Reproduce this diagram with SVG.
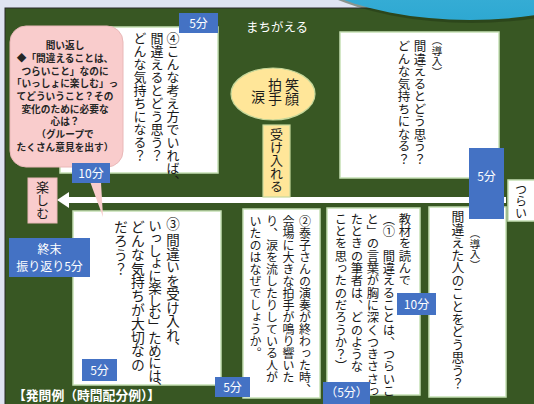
<svg xmlns="http://www.w3.org/2000/svg" width="534" height="404" viewBox="0 0 534 404">
<defs>
<linearGradient id="cy" x1="0" y1="0" x2="0" y2="1">
<stop offset="0" stop-color="#6fd0ec"/>
<stop offset="1" stop-color="#2ea8d2"/>
</linearGradient>
<style>
text{font-family:"Noto Sans CJK JP","Noto Sans",sans-serif;fill:#1a1a1a}
.v{writing-mode:vertical-rl;text-anchor:start}
.wb{fill:#ffffff;stroke:#c5e0b4;stroke-width:1.5}
.bl{fill:#4472c4}
.bt{fill:#ffffff;font-size:12px;text-anchor:middle}
.yl{fill:#ffe699;stroke:#c5d79a;stroke-width:1.2}
.pk{fill:#f9cccc;stroke:#e9b8b8;stroke-width:1}
.c{font-size:9.7px;font-weight:bold;text-anchor:middle;fill:#262626}
</style>
</defs>
<rect x="0" y="0" width="534" height="404" fill="#dfe4f2"/>
<rect x="5" y="8" width="540" height="400" fill="#385723" stroke="#2a2a2a" stroke-width="1"/>
<ellipse cx="472" cy="-77" rx="210" ry="100" fill="#1e3312" opacity="0.45"/>
<ellipse cx="470" cy="-80" rx="210" ry="100" fill="url(#cy)"/>

<g id="connectors">
<rect x="66" y="197" width="440" height="6" fill="#ffffff"/>
<polygon points="57,200 69,192 69,208" fill="#ffffff"/>
</g>

<g id="box4">
<rect class="wb" x="60" y="27" width="158" height="146"/>
<text class="v" x="173" y="32" font-size="13">④こんな考え方でいれば、</text>
<text class="v" x="157" y="32" font-size="13">間違えるとどう思う？</text>
<text class="v" x="140" y="32" font-size="13">どんな気持ちになる？</text>
</g>
<g id="time4"><rect class="bl" x="179" y="13" width="39" height="20"/><text class="bt" x="198.5" y="27.5">5分</text></g>

<g id="title"><text x="277" y="32" font-size="12.5" text-anchor="middle" style="fill:#ffffff">まちがえる</text></g>

<g id="ellipse">
<ellipse class="yl" cx="273" cy="94" rx="42" ry="26"/>
<text class="v" x="292" y="78" font-size="14">笑顔</text>
<text class="v" x="275" y="78" font-size="14">拍手</text>
<text class="v" x="258" y="90" font-size="14">涙</text>
</g>

<g id="ukeireru">
<rect class="yl" x="263" y="125" width="27" height="72"/>
<text class="v" x="276.5" y="128" font-size="13">受け入れる</text>
</g>

<g id="intro1">
<rect class="wb" x="340" y="32" width="159" height="146"/>
<text class="v" x="437" y="35" font-size="10.5">（導入）</text>
<text class="v" x="420" y="40" font-size="12.5">間違えるとどう思う？</text>
<text class="v" x="404" y="40" font-size="12.5">どんな気持ちになる？</text>
</g>

<g id="tsurai">
<rect class="wb" x="508" y="180" width="32" height="41"/>
<text class="v" x="521" y="183" font-size="12">つらい</text>
</g>

<g id="intro2">
<rect class="wb" x="429" y="207" width="77" height="190"/>
<text class="v" x="475" y="228" font-size="10.5">（導入）</text>
<text class="v" x="458" y="210" font-size="12.8">間違えた人のことをどう思う？</text>
</g>
<g id="time5top"><rect class="bl" x="469" y="148" width="35" height="71"/><text class="bt" x="486.5" y="181">5分</text></g>

<g id="box1">
<rect class="wb" x="327" y="208" width="93" height="187"/>
<text class="v" x="405" y="213" font-size="12.3">教材を読んで</text>
<text class="v" x="389" y="213" font-size="12.3">（①　間違えることは、つらいこ</text>
<text class="v" x="373" y="213" font-size="12.3">と」の言葉が胸に深くつきささっ</text>
<text class="v" x="357" y="213" font-size="12.3">たときの筆者は、どのような</text>
<text class="v" x="341" y="213" font-size="12.3">ことを思ったのだろうか？）</text>
</g>
<g id="time10b"><rect class="bl" x="397" y="293" width="39" height="22"/><text class="bt" x="416.5" y="308.5">10分</text></g>
<g id="time5p"><rect class="bl" x="323" y="382" width="47" height="22"/><text class="bt" x="346.5" y="397">（5分）</text></g>

<g id="box2">
<rect class="wb" x="243" y="209" width="77" height="189"/>
<text class="v" x="305" y="215" font-size="12">②泰子さんの演奏が終わった時、</text>
<text class="v" x="288.5" y="215" font-size="12">会場に大きな拍手が鳴り響いた</text>
<text class="v" x="272" y="215" font-size="12">り、涙を流したりしている人が</text>
<text class="v" x="255.5" y="215" font-size="12">いたのはなぜでしょうか。</text>
</g>

<g id="box3">
<rect class="wb" x="73" y="211" width="148" height="174"/>
<text class="v" x="173" y="217" font-size="13.5">③ 間違いを受け入れ、</text>
<text class="v" x="155" y="219" font-size="13.5" letter-spacing="-1">いっしょに楽しむ」ためには、</text>
<text class="v" x="138" y="220" font-size="13.8">どんな気持ちが大切なの</text>
<text class="v" x="121" y="220" font-size="13.8">だろう？</text>
</g>
<g id="time3"><rect class="bl" x="82" y="359" width="35" height="22"/><text class="bt" x="99.5" y="374.5">5分</text></g>
<g id="time2"><rect class="bl" x="215" y="377" width="35" height="20"/><text class="bt" x="232.5" y="391.5">5分</text></g>

<g id="callout">
<rect class="pk" x="10" y="26" width="113" height="141" rx="16" ry="16"/>
<polygon points="84,165 100,165 103,217" fill="#f9cccc"/>
<text class="c" x="65" y="49">問い返し</text>
<text class="c" x="65" y="62">◆「間違えることは、</text>
<text class="c" x="65" y="74.5">つらいこと」なのに</text>
<text class="c" x="65" y="87">「いっしょに楽しむ」っ</text>
<text class="c" x="65" y="100">てどういうこと？その</text>
<text class="c" x="65" y="112.5">変化のために必要な</text>
<text class="c" x="65" y="125">心は？</text>
<text class="c" x="65" y="138">（グループで</text>
<text class="c" x="65" y="150.5">たくさん意見を出す）</text>
</g>
<g id="time10a"><rect class="bl" x="72" y="163" width="38" height="20"/><text class="bt" x="91" y="177.5">10分</text></g>

<g id="tanoshimu">
<rect class="pk" x="28" y="178" width="29" height="45" stroke="#c5e0b4"/>
<text class="v" x="42.5" y="181" font-size="13">楽しむ</text>
</g>

<g id="shumatsu">
<rect class="bl" x="9" y="238" width="81" height="39"/>
<text class="bt" x="49.5" y="254">終末</text>
<text class="bt" x="49.5" y="271">振り返り5分</text>
</g>

<g id="caption"><text x="13" y="399.5" font-size="12.8" font-weight="bold" style="fill:#ffffff">【発問例（時間配分例）】</text></g>
</svg>
